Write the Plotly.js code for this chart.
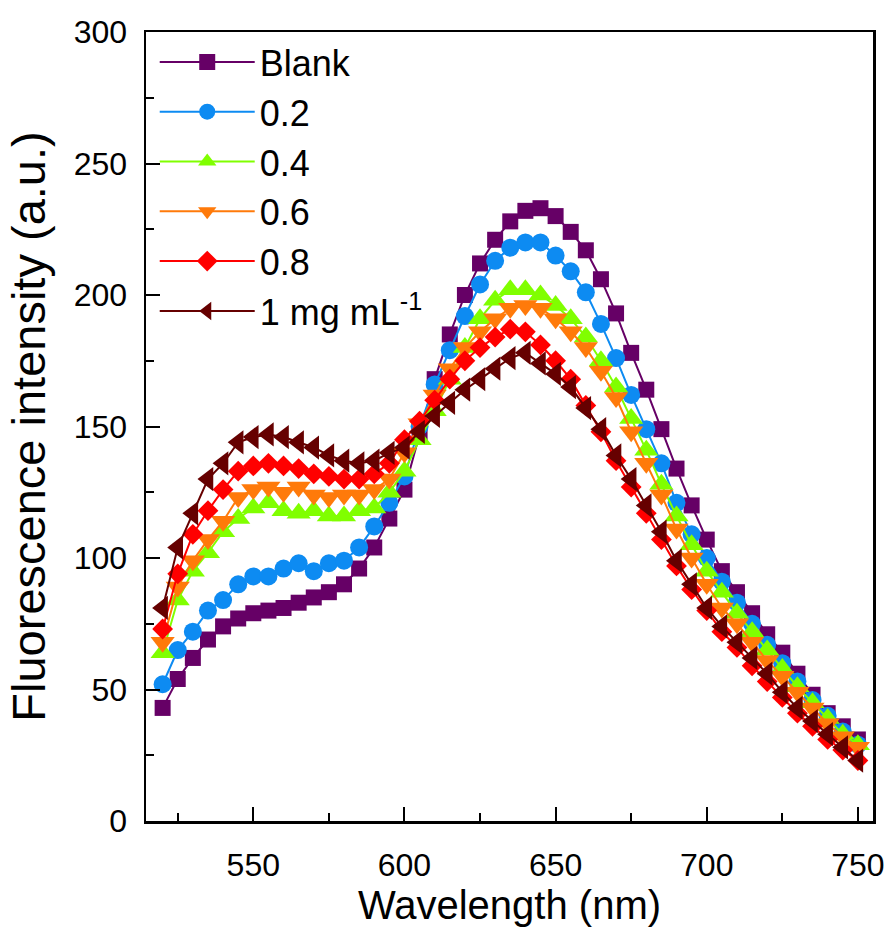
<!DOCTYPE html>
<html>
<head>
<meta charset="utf-8">
<script src="https://cdn.plot.ly/plotly-3.0.1.min.js"></script>
<style>html,body{margin:0;padding:0;background:#fff;}#chart{width:887px;height:936px;}</style>
</head>
<body>
<div id="chart"></div>
<script>
const wavelength = [520,525,530,535,540,545,550,555,560,565,570,575,580,585,590,595,600,
  605,610,615,620,625,630,635,640,645,650,655,660,665,670,675,680,685,690,695,700,
  705,710,715,720,725,730,735,740,745,750];

const blank = [43,54,62,69,74,77,79,80,81,83,85,87,90,96,104,115,126,
  147,168,185,200,212,221,228,232,233,230,224,217,206,193,178,164,149,134,120,107,
  95,87,79,71,64,56,48,41,36,31];
const c02 = [52,65,72,80,84,90,93,93,96,98,95,98,99,104,112,121,131,
  150,166,179,192,204,213,218,220,220,215,209,201,189,176,162,149,136,121,109,100,
  91,83,75,67,60,53,46,40,34,29];
const c04 = [64,84,95,102,110,115,119,121,118,117,118,116,116,118,119,125,133,
  145,156,168,180,191,198,202,202,200,196,191,184,175,165,153,141,128,116,105,95,
  87,79,72,65,58,51,45,39,33,29];
const c06 = [68,89,99,107,114,123,126,127,125,127,124,123,124,124,126,130,140,
  151,162,172,180,186,191,195,196,195,191,186,180,171,161,148,136,124,111,100,90,
  81,75,68,61,55,49,43,37,32,28];
const c08 = [73,94,109,118,126,133,135,136,135,134,132,131,130,130,132,136,145,
  152,160,168,175,180,184,187,186,181,175,168,158,148,137,127,117,107,97,88,80,
  72,66,59,53,47,41,36,31,27,23];
const c10 = [81,104,117,130,136,144,146,147,146,144,142,139,137,136,137,140,142,
  148,154,159,164,168,172,176,178,174,170,165,157,149,139,130,120,110,99,90,81,
  74,68,62,56,49,43,38,33,28,23];

const seriesNames = ['Blank','0.2','0.4','0.6','0.8','1 mg mL<sup>-1</sup>'];
const seriesData = [blank,c02,c04,c06,c08,c10];
const seriesColors = ['#660066','#0D8BF2','#80FF00','#FF7A0A','#FF0000','#660000'];
const seriesSymbols = ['square','circle','triangle-up','triangle-down','diamond','triangle-left'];
const seriesSizes = [16,18,21,21,16,21];

const traces = seriesData.map((d,i)=>({
  x: wavelength, y: d, name: seriesNames[i], type:'scatter', mode:'lines+markers',
  line:{color:seriesColors[i], width:2},
  marker:{symbol:seriesSymbols[i], size:seriesSizes[i], color:seriesColors[i], line:{width:0}}
}));

const fontFam = 'Liberation Sans, Arial, sans-serif';
const layout = {
  width:887, height:936,
  margin:{l:146, r:14, t:32, b:115, autoexpand:false},
  paper_bgcolor:'#fff', plot_bgcolor:'#fff',
  font:{family:fontFam, color:'#000'},
  showlegend:true,
  legend:{x:0.012, y:1, xanchor:'left', yanchor:'top', bgcolor:'rgba(0,0,0,0)',
    font:{size:36, family:fontFam, color:'#000'}, itemwidth:95, tracegroupgap:0},
  xaxis:{range:[514.5,755], showgrid:false, zeroline:false, automargin:true,
    showline:true, linecolor:'#000', linewidth:2.5, mirror:true,
    ticks:'inside', ticklen:14, tickwidth:2, tickcolor:'#000',
    tickvals:[550,600,650,700,750], ticktext:['550','600','650','700','750'],
    minor:{tickvals:[525,575,625,675,725], ticks:'inside', ticklen:8, tickwidth:2, tickcolor:'#000'},
    tickfont:{size:32, family:fontFam}, ticklabelstandoff:14,
    title:{text:'Wavelength (nm)', font:{size:40, family:fontFam}, standoff:5}},
  yaxis:{range:[0,300], showgrid:false, zeroline:false,
    showline:true, linecolor:'#000', linewidth:2.5, mirror:true,
    ticks:'inside', ticklen:14, tickwidth:2, tickcolor:'#000',
    tickvals:[0,50,100,150,200,250,300], ticktext:['0','50','100','150','200','250','300'],
    minor:{tickvals:[25,75,125,175,225,275], ticks:'inside', ticklen:8, tickwidth:2, tickcolor:'#000'},
    tickfont:{size:32, family:fontFam}, ticklabelstandoff:10,
    title:{text:'Fluorescence intensity (a.u.)', font:{size:47, family:fontFam}, standoff:14}}
};
Plotly.newPlot('chart', traces, layout, {displayModeBar:false, staticPlot:true});
</script>
</body>
</html>
